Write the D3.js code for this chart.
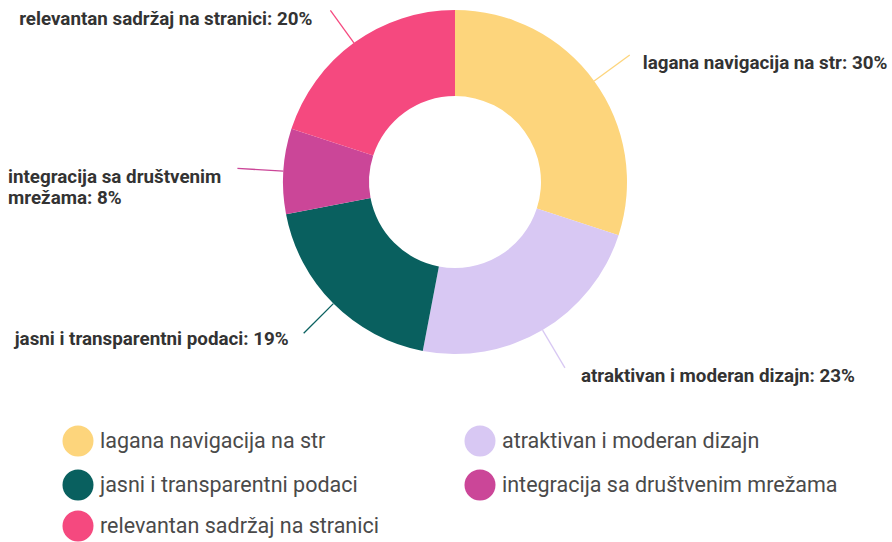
<!DOCTYPE html>
<html><head><meta charset="utf-8">
<script src="https://cdn.jsdelivr.net/npm/d3@7"></script>
<style>
html,body{margin:0;padding:0;background:#fff;}
svg{display:block;font-family:Roboto,"Noto Sans",sans-serif;}
</style></head>
<body>
<svg id="chart" width="892" height="542"></svg>
<script>
const categories = ["lagana navigacija na str","atraktivan i moderan dizajn","jasni i transparentni podaci","integracija sa društvenim mrežama","relevantan sadržaj na stranici"];
const values = [30, 23, 19, 8, 20];
const colors = ["#FDD57C","#D8C8F3","#09605F","#CB4698","#F5497F"];
const labelLines = [
  ["lagana navigacija na str: 30%"],
  ["atraktivan i moderan dizajn: 23%"],
  ["jasni i transparentni podaci: 19%"],
  ["integracija sa društvenim","mrežama: 8%"],
  ["relevantan sadržaj na stranici: 20%"]
];

const svg = d3.select("#chart");
const cx = 455, cy = 182, rOuter = 172, rInner = 86;
const data = categories.map((c,i)=>({name:c,value:values[i],color:colors[i],label:labelLines[i]}));
const pie = d3.pie().value(d=>d.value).sort(null);
const arcs = pie(data);
const arc = d3.arc().innerRadius(rInner).outerRadius(rOuter);
const g = svg.append("g").attr("transform",`translate(${cx},${cy})`);
g.selectAll("path.slice").data(arcs).join("path")
  .attr("class","slice").attr("d",arc).attr("fill",d=>d.data.color);

// label lines and labels
const lineLen = [44, 44, 42, 46, 40];
const gap = [13, 16, 15, 0, 18];
const dy = [14, 14, 12, 0, 14];
arcs.forEach((a,i)=>{
  const mid = (a.startAngle + a.endAngle)/2;
  const sx = Math.sin(mid), sy = -Math.cos(mid);
  const p0 = [sx*rOuter, sy*rOuter];
  const p1 = [sx*(rOuter+lineLen[i]), sy*(rOuter+lineLen[i])];
  g.append("line").attr("x1",p0[0]).attr("y1",p0[1]).attr("x2",p1[0]).attr("y2",p1[1])
    .attr("stroke",a.data.color).attr("stroke-width",1.3);
  const right = sx >= 0;
  const lines = a.data.label;
  const t = g.append("text").attr("fill","#333").attr("font-size",18.8).attr("font-weight","bold");
  if (lines.length === 1) {
    t.attr("text-anchor", right ? "start" : "end")
     .attr("x", p1[0] + (right ? gap[i] : -gap[i]))
     .attr("y", p1[1] + dy[i]);
    t.text(lines[0]);
  } else {
    t.attr("text-anchor","start");
    lines.forEach((ln,k)=>{
      t.append("tspan").attr("x",-cx+8).attr("y",p1[1]+15 + k*21).text(ln);
    });
  }
});

// legend
const legendPos = [[78,441],[480,441],[78,485],[480,485],[78,526]];
const lg = svg.append("g");
data.forEach((d,i)=>{
  const [x,y] = legendPos[i];
  lg.append("circle").attr("cx",x).attr("cy",y).attr("r",15.5).attr("fill",d.color);
  lg.append("text").attr("x",x+22).attr("y",y+7).attr("font-size",21.5).attr("fill","#4a4a4a").text(d.name);
});
</script>
</body></html>
